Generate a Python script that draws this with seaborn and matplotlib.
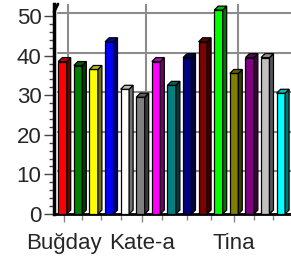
import numpy as np
import matplotlib.pyplot as plt
import seaborn as sns
from matplotlib.patches import Polygon
from matplotlib.colors import to_rgb

# bar data (one bar per colour)
bars = ['red', 'green', 'yellow', 'blue', 'white', 'gray', 'magenta', 'teal',
        'navy', 'maroon', 'lime', 'olive', 'purple', 'silver', 'cyan']
values = [38.5, 37.5, 36.5, 43.5, 31.5, 29.5, 38.5, 32.5,
          39.5, 43.5, 51.5, 35.5, 39.5, 39.5, 30.5]
colors = ['#ff0000', '#008000', '#ffff00', '#0000ff', '#ffffff', '#808080', '#ff00ff', '#008080',
          '#000080', '#800000', '#00ff00', '#808000', '#800080', '#c0c0c0', '#00ffff']

# x axis labels
label_pos = [0.1, 5.1, 11]
labels = ['Buğday', 'Kate-a', 'Tina']
minor_pos = [1.25, 2.5, 3.75, 6.4, 8.0, 9.5, 12.25, 13.5]
yticks = [0, 10, 20, 30, 40, 50]

sns.set_style('white')
plt.rcParams['font.family'] = ['Liberation Sans', 'DejaVu Sans']

W, H = 291, 257
fig = plt.figure(figsize=(W / 100, H / 100), dpi=100)
ax = fig.add_axes([54 / W, 43 / H, (W - 54) / W, (214 - 4) / H])

sns.barplot(x=bars, y=values, hue=bars, order=bars, hue_order=bars, palette=colors,
            saturation=1, width=0.54, dodge=False, legend=False,
            edgecolor='black', linewidth=0.9, ax=ax, zorder=3)

xl, xr = -0.545, 14.65
top = (214 - 4) / 3.96
ax.set_xlim(xl, xr)
ax.set_ylim(0, top)

# depth of the fake 3d effect (data units)
dx, dy = 0.256, 1.0

for p in list(ax.patches):
    x0, w, h = p.get_x(), p.get_width(), p.get_height()
    c = np.array(to_rgb(p.get_facecolor()))
    side = Polygon([(x0 + w, 0), (x0 + w + dx, dy), (x0 + w + dx, h + dy), (x0 + w, h)],
                   closed=True, facecolor=c * 0.45, edgecolor='black', lw=0.9, zorder=3)
    topf = Polygon([(x0, h), (x0 + dx, h + dy), (x0 + w + dx, h + dy), (x0 + w, h)],
                   closed=True, facecolor=c * 0.75, edgecolor='black', lw=0.9, zorder=3)
    ax.add_patch(side)
    ax.add_patch(topf)

# back wall grid
for v in yticks[1:]:
    ax.plot([xl + dx, xr], [v + 0.75, v + 0.75], color='#8c8c8c', lw=1.5, zorder=1)
for p in label_pos:
    ax.plot([p + dx, p + dx], [dy, top], color='#8c8c8c', lw=1.5, zorder=1)

# top of the left wall
ax.plot([xl, xl + dx], [top - 2.0, top], color='black', lw=2, clip_on=False, zorder=4)

ax.set_yticks(yticks)
ax.set_yticks(range(0, 51, 2), minor=True)
ax.set_xticks(label_pos, labels)
ax.set_xticks(minor_pos, minor=True)
ax.set_xlabel('')
ax.set_ylabel('')

ax.tick_params(axis='y', which='major', length=7, width=1, color='#444444', labelsize=16, pad=2, left=True)
ax.tick_params(axis='y', which='minor', length=3.6, width=1, color='#444444', left=True)
ax.tick_params(axis='x', which='major', length=6, width=1, color='#888888', labelsize=16, pad=8, bottom=True)
ax.tick_params(axis='x', which='minor', length=4.5, width=1, color='#888888', bottom=True)

for s in ['top', 'right']:
    ax.spines[s].set_visible(False)
ax.spines['left'].set_linewidth(2.5)
ax.spines['left'].set_color('black')
ax.spines['bottom'].set_linewidth(2)
ax.spines['bottom'].set_color('black')

fig.savefig('out.png', dpi=100)
